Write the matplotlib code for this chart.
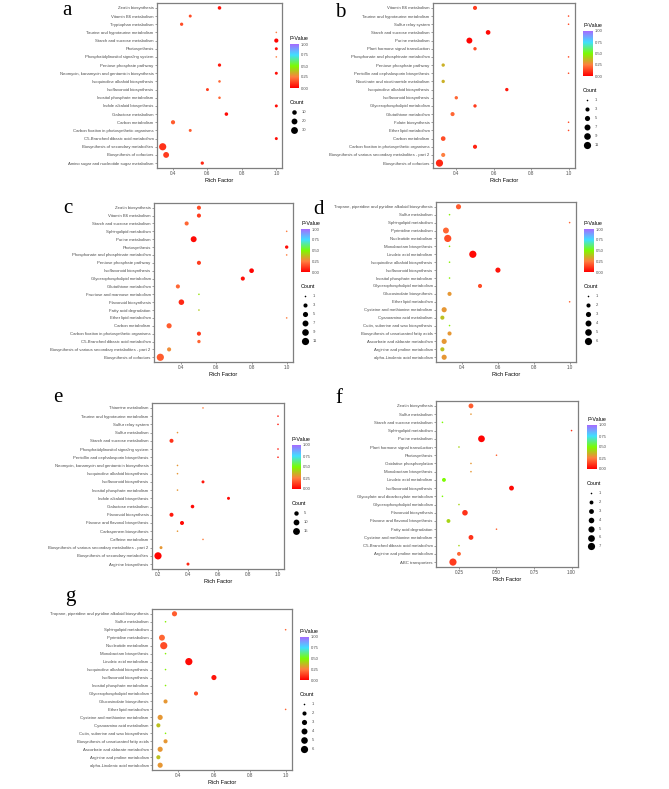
import numpy as np
import matplotlib
matplotlib.use("Agg")
import matplotlib.pyplot as plt
from matplotlib.colors import LinearSegmentedColormap

# ---- data (categories listed top to bottom) ----
a_cats = ["Zeatin biosynthesis", "Vitamin B6 metabolism", "Tryptophan metabolism",
          "Taurine and hypotaurine metabolism", "Starch and sucrose metabolism", "Photosynthesis",
          "Phosphatidylinositol signaling system", "Pentose phosphate pathway",
          "Neomycin, kanamycin and gentamicin biosynthesis", "Isoquinoline alkaloid biosynthesis",
          "Isoflavonoid biosynthesis", "Inositol phosphate metabolism", "Indole alkaloid biosynthesis",
          "Galactose metabolism", "Carbon metabolism", "Carbon fixation in photosynthetic organisms",
          "C5-Branched dibasic acid metabolism", "Biosynthesis of secondary metabolites",
          "Biosynthesis of cofactors", "Amino sugar and nucleotide sugar metabolism"]
a_rf = [0.67, 0.50, 0.45, 1.0, 1.0, 1.0, 1.0, 0.67, 1.0, 0.67, 0.60, 0.67, 1.0, 0.71, 0.40, 0.50, 1.0, 0.34, 0.36, 0.57]
a_cnt = [5, 3, 4, 1, 8, 3, 1, 4, 3, 2, 3, 2, 3, 5, 8, 3, 3, 34, 20, 4]
a_pv = [0.04, 0.15, 0.15, 0.25, 0.01, 0.03, 0.25, 0.05, 0.03, 0.2, 0.12, 0.2, 0.03, 0.02, 0.18, 0.18, 0.03, 0.1, 0.12, 0.08]

b_cats = ["Vitamin B6 metabolism", "Taurine and hypotaurine metabolism", "Sulfur relay system",
          "Starch and sucrose metabolism", "Purine metabolism", "Plant hormone signal transduction",
          "Phosphonate and phosphinate metabolism", "Pentose phosphate pathway",
          "Penicillin and cephalosporin biosynthesis", "Nicotinate and nicotinamide metabolism",
          "Isoquinoline alkaloid biosynthesis", "Isoflavonoid biosynthesis", "Glycerophospholipid metabolism",
          "Glutathione metabolism", "Folate biosynthesis", "Ether lipid metabolism", "Carbon metabolism",
          "Carbon fixation in photosynthetic organisms",
          "Biosynthesis of various secondary metabolites - part 2", "Biosynthesis of cofactors"]
b_rf = [0.50, 1.0, 1.0, 0.57, 0.47, 0.50, 1.0, 0.33, 1.0, 0.33, 0.67, 0.40, 0.50, 0.38, 1.0, 1.0, 0.33, 0.50, 0.33, 0.31]
b_cnt = [3, 1, 1, 4, 7, 2, 1, 2, 1, 2, 2, 2, 2, 3, 1, 1, 4, 3, 3, 11]
b_pv = [0.12, 0.15, 0.15, 0.02, 0.01, 0.15, 0.15, 0.35, 0.15, 0.35, 0.05, 0.2, 0.12, 0.2, 0.15, 0.15, 0.15, 0.07, 0.25, 0.08]

c_cats = ["Zeatin biosynthesis", "Vitamin B6 metabolism", "Starch and sucrose metabolism",
          "Sphingolipid metabolism", "Purine metabolism", "Photosynthesis",
          "Phosphonate and phosphinate metabolism", "Pentose phosphate pathway", "Isoflavonoid biosynthesis",
          "Glycerophospholipid metabolism", "Glutathione metabolism", "Fructose and mannose metabolism",
          "Flavonoid biosynthesis", "Fatty acid degradation", "Ether lipid metabolism", "Carbon metabolism",
          "Carbon fixation in photosynthetic organisms", "C5-Branched dibasic acid metabolism",
          "Biosynthesis of various secondary metabolites - part 2", "Biosynthesis of cofactors"]
c_rf = [0.50, 0.50, 0.43, 1.0, 0.47, 1.0, 1.0, 0.50, 0.80, 0.75, 0.38, 0.50, 0.40, 0.50, 1.0, 0.33, 0.50, 0.50, 0.33, 0.28]
c_cnt = [3, 3, 3, 1, 7, 2, 1, 3, 4, 3, 3, 1, 6, 1, 1, 5, 3, 2, 3, 11]
c_pv = [0.15, 0.12, 0.2, 0.25, 0.02, 0.03, 0.25, 0.12, 0.01, 0.03, 0.2, 0.45, 0.08, 0.4, 0.25, 0.18, 0.12, 0.2, 0.28, 0.18]

d_cats = ["Tropane, piperidine and pyridine alkaloid biosynthesis", "Sulfur metabolism",
          "Sphingolipid metabolism", "Pyrimidine metabolism", "Nucleotide metabolism",
          "Monobactam biosynthesis", "Linoleic acid metabolism", "Isoquinoline alkaloid biosynthesis",
          "Isoflavonoid biosynthesis", "Inositol phosphate metabolism", "Glycerophospholipid metabolism",
          "Glucosinolate biosynthesis", "Ether lipid metabolism", "Cysteine and methionine metabolism",
          "Cyanoamino acid metabolism", "Cutin, suberine and wax biosynthesis",
          "Biosynthesis of unsaturated fatty acids", "Ascorbate and aldarate metabolism",
          "Arginine and proline metabolism", "alpha-Linolenic acid metabolism"]
d_rf = [0.38, 0.33, 1.0, 0.31, 0.32, 0.33, 0.46, 0.33, 0.60, 0.33, 0.50, 0.33, 1.0, 0.30, 0.29, 0.33, 0.33, 0.30, 0.29, 0.30]
d_cnt = [3, 1, 1, 4, 6, 1, 6, 1, 3, 1, 2, 2, 1, 3, 2, 1, 2, 3, 2, 3]
d_pv = [0.18, 0.48, 0.2, 0.2, 0.15, 0.48, 0.02, 0.48, 0.04, 0.48, 0.15, 0.3, 0.2, 0.3, 0.38, 0.48, 0.3, 0.3, 0.38, 0.3]

e_cats = ["Thiamine metabolism", "Taurine and hypotaurine metabolism", "Sulfur relay system",
          "Sulfur metabolism", "Starch and sucrose metabolism", "Phosphatidylinositol signaling system",
          "Penicillin and cephalosporin biosynthesis", "Neomycin, kanamycin and gentamicin biosynthesis",
          "Isoquinoline alkaloid biosynthesis", "Isoflavonoid biosynthesis", "Inositol phosphate metabolism",
          "Indole alkaloid biosynthesis", "Galactose metabolism", "Flavonoid biosynthesis",
          "Flavone and flavonol biosynthesis", "Carbapenem biosynthesis", "Caffeine metabolism",
          "Biosynthesis of various secondary metabolites - part 2", "Biosynthesis of secondary metabolites",
          "Arginine biosynthesis"]
e_rf = [0.50, 1.0, 1.0, 0.33, 0.29, 1.0, 1.0, 0.33, 0.33, 0.50, 0.33, 0.67, 0.43, 0.29, 0.36, 0.33, 0.50, 0.22, 0.20, 0.40]
e_cnt = [1, 1, 1, 1, 4, 1, 1, 1, 1, 2, 1, 2, 3, 4, 4, 1, 1, 2, 17, 2]
e_pv = [0.25, 0.05, 0.05, 0.3, 0.1, 0.05, 0.05, 0.3, 0.3, 0.05, 0.3, 0.02, 0.02, 0.05, 0.02, 0.3, 0.25, 0.3, 0.01, 0.08]

f_cats = ["Zeatin biosynthesis", "Sulfur metabolism", "Starch and sucrose metabolism",
          "Sphingolipid metabolism", "Purine metabolism", "Plant hormone signal transduction",
          "Photosynthesis", "Oxidative phosphorylation", "Monobactam biosynthesis",
          "Linoleic acid metabolism", "Isoflavonoid biosynthesis", "Glyoxylate and dicarboxylate metabolism",
          "Glycerophospholipid metabolism", "Flavonoid biosynthesis", "Flavone and flavonol biosynthesis",
          "Fatty acid degradation", "Cysteine and methionine metabolism", "C5-Branched dibasic acid metabolism",
          "Arginine and proline metabolism", "ABC transporters"]
f_rf = [0.33, 0.33, 0.14, 1.0, 0.40, 0.25, 0.50, 0.33, 0.33, 0.15, 0.60, 0.14, 0.25, 0.29, 0.18, 0.50, 0.33, 0.25, 0.25, 0.21]
f_cnt = [3, 1, 1, 1, 6, 1, 1, 1, 1, 2, 3, 1, 1, 4, 2, 1, 3, 1, 2, 7]
f_pv = [0.18, 0.3, 0.5, 0.1, 0.01, 0.42, 0.2, 0.3, 0.3, 0.5, 0.02, 0.5, 0.42, 0.1, 0.42, 0.2, 0.1, 0.42, 0.2, 0.12]

# panel g repeats panel d
g_cats, g_rf, g_cnt, g_pv = d_cats, d_rf, d_cnt, d_pv

W, H = 669, 789
fig = plt.figure(figsize=(W / 100, H / 100), dpi=100)
plt.rcParams['font.family'] = ['Liberation Sans', 'DejaVu Sans']

cmap = LinearSegmentedColormap.from_list(
    "pv", [(0, "#FF0000"), (0.25, "#FF7F40"), (0.5, "#7CFC00"), (0.75, "#3FE0FF"), (1, "#A66BFF")])
GREY = "#4D4D4D"


def box(x0, y0, x1, y1):
    return [x0 / W, 1 - y1 / H, (x1 - x0) / W, (y1 - y0) / H]


def dot(c, cmin, cmax):
    # ggplot-like area scale, diameter in pixels
    c = np.asarray(c, float)
    return 1.6 + 5.6 * np.sqrt((c - cmin) / (cmax - cmin))


ov = fig.add_axes([0, 0, 1, 1], zorder=10)
ov.set_xlim(0, W)
ov.set_ylim(H, 0)
ov.axis("off")
ov.patch.set_alpha(0)


def panel(letter, lpos, axp, cats, rf, cnt, pv, xticks, xfmt, cbp, breaks):
    ax = fig.add_axes(box(*axp))
    n = len(cats)
    yy = np.arange(n)
    cmin, cmax = min(cnt), max(cnt)
    ax.scatter(rf, yy, s=(dot(cnt, cmin, cmax) * 0.72) ** 2, c=pv, cmap=cmap,
               vmin=0, vmax=1, linewidths=0, zorder=3)
    lo, hi = min(rf), max(rf)
    pad = 0.05 * (hi - lo)
    ax.set_xlim(lo - pad, hi + pad)
    ax.set_ylim(n - 0.4, -0.6)
    ax.set_yticks(yy)
    ax.set_yticklabels(cats, fontsize=3.1, color=GREY)
    ax.set_xticks(xticks)
    ax.set_xticklabels([xfmt % t for t in xticks], fontsize=3.3, color=GREY)
    ax.tick_params(length=1.5, width=0.4, color="#555555", pad=1)
    ax.set_xlabel("Rich Factor", fontsize=4.0, labelpad=1)
    for sp in ax.spines.values():
        sp.set_color("#7F7F7F")
        sp.set_linewidth(0.9)

    # colour bar
    cax = fig.add_axes(box(*cbp))
    cax.imshow(np.linspace(0, 1, 256)[:, None], aspect="auto", cmap=cmap,
               origin="lower", extent=[0, 1, 0, 1])
    cax.set_xticks([])
    cax.yaxis.tick_right()
    cax.set_yticks([0, 0.25, 0.5, 0.75, 1])
    cax.set_yticklabels(["0.00", "0.25", "0.50", "0.75", "1.00"], fontsize=3.0, color=GREY)
    cax.tick_params(length=0, pad=1.5)
    for sp in cax.spines.values():
        sp.set_visible(False)
    x0, y0, x1, y1 = cbp
    ov.text(x0, y0 - 3, "P-Value", fontsize=3.9, va="bottom", ha="left")

    # count legend
    ty = y1 + 14
    ov.text(x0, ty, "Count", fontsize=3.9, va="center", ha="left")
    for i, b in enumerate(breaks):
        yb = ty + 10 + i * 8.9
        ov.scatter([x0 + 4], [yb], s=(dot(b, cmin, cmax) * 0.72) ** 2, color="black", linewidths=0)
        ov.text(x0 + 12, yb, str(b), fontsize=3.0, va="center", ha="left", color=GREY)

    ov.text(lpos[0], lpos[1], letter, fontsize=15, family="Liberation Serif", va="baseline", ha="left")


panel("a", (62, 15), (157, 3, 282, 168), a_cats, a_rf, a_cnt, a_pv,
      [0.4, 0.6, 0.8, 1.0], "%.1f", (290, 44, 299, 88), [10, 20, 30])
panel("b", (335, 17), (433, 3, 575, 168), b_cats, b_rf, b_cnt, b_pv,
      [0.4, 0.6, 0.8, 1.0], "%.1f", (583, 31, 593, 76), [1, 3, 5, 7, 9, 11])
panel("c", (63, 213), (154, 203, 293, 362), c_cats, c_rf, c_cnt, c_pv,
      [0.4, 0.6, 0.8, 1.0], "%.1f", (301, 229, 310, 272), [1, 3, 5, 7, 9, 11])
panel("d", (313, 214), (436, 202, 576, 362), d_cats, d_rf, d_cnt, d_pv,
      [0.4, 0.6, 0.8, 1.0], "%.1f", (584, 229, 594, 272), [1, 2, 3, 4, 5, 6])
panel("e", (53, 402), (152, 403, 284, 569), e_cats, e_rf, e_cnt, e_pv,
      [0.2, 0.4, 0.6, 0.8, 1.0], "%.1f", (292, 445, 301, 489), [5, 10, 15])
panel("f", (335, 403), (436, 401, 578, 567), f_cats, f_rf, f_cnt, f_pv,
      [0.25, 0.50, 0.75, 1.00], "%.2f", (587, 425, 597, 469), [1, 2, 3, 4, 5, 6, 7])
panel("g", (65, 601), (152, 609, 292, 770), g_cats, g_rf, g_cnt, g_pv,
      [0.4, 0.6, 0.8, 1.0], "%.1f", (300, 637, 309, 680), [1, 2, 3, 4, 5, 6])

fig.savefig("out.png", dpi=100)
